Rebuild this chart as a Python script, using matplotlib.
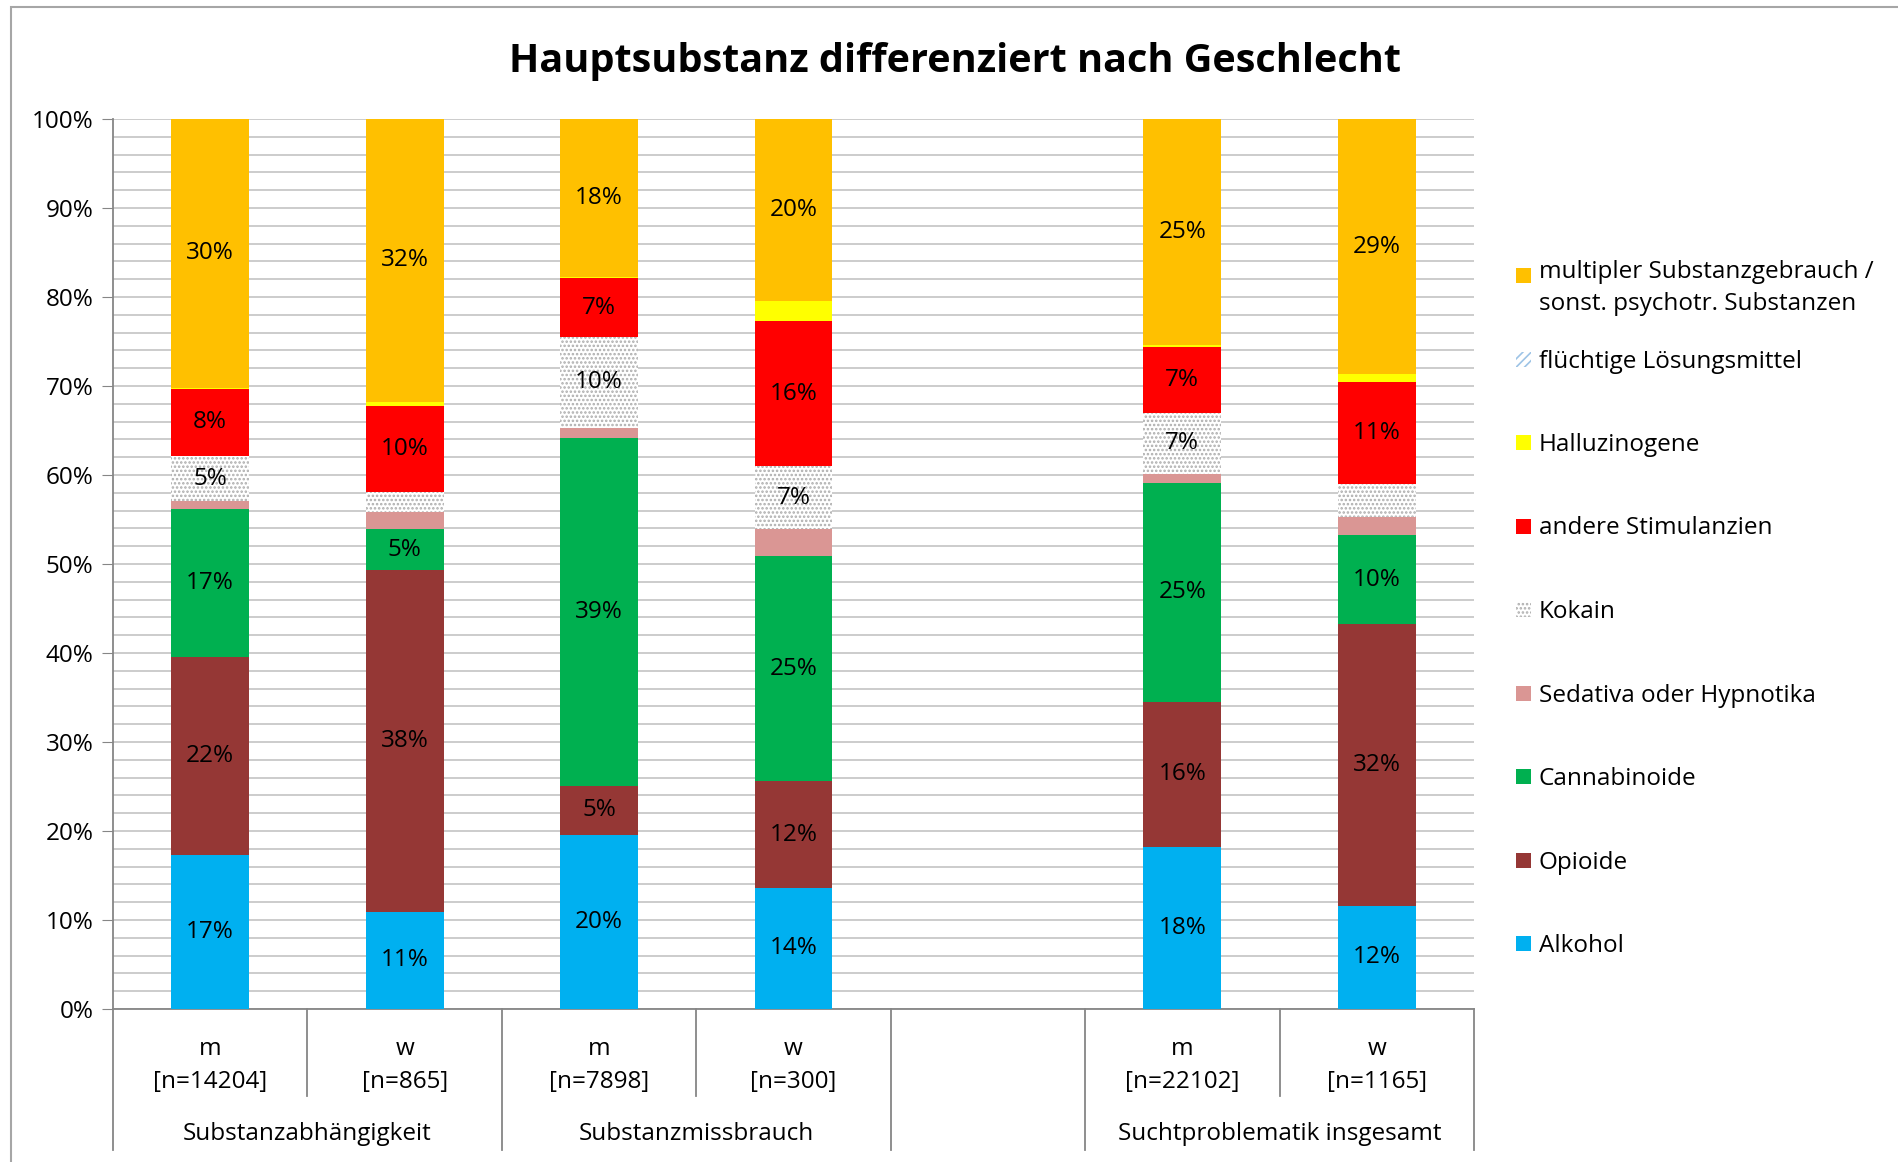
import matplotlib.pyplot as plt
from matplotlib.patches import Rectangle

plt.rcParams['font.family'] = ['Open Sans', 'DejaVu Sans']
plt.rcParams['hatch.linewidth'] = 1.2

# Daten (Anteile in %)
gruppen = ['Substanzabhängigkeit', 'Substanzmissbrauch', 'Suchtproblematik insgesamt']
geschlecht = ['m', 'w', 'm', 'w', 'm', 'w']
n_werte = [14204, 865, 7898, 300, 22102, 1165]
x_pos = [0, 1, 2, 3, 5, 6]

alkohol = [17.3, 10.9, 19.6, 13.6, 18.2, 11.6]
opioide = [22.3, 38.4, 5.4, 12.0, 16.3, 31.6]
cannabinoide = [16.6, 4.6, 39.2, 25.3, 24.6, 10.1]
sedativa = [0.9, 1.9, 1.1, 3.0, 1.0, 2.0]
kokain = [5.0, 2.3, 10.2, 7.1, 6.9, 3.7]
stimulanzien = [7.6, 9.7, 6.6, 16.3, 7.4, 11.4]
halluzinogene = [0.1, 0.4, 0.2, 2.3, 0.2, 0.9]
loesungsmittel = [0.0, 0.0, 0.0, 0.0, 0.0, 0.0]
multipel = [30.2, 31.8, 17.7, 20.4, 25.4, 28.7]

serien = [
    ('Alkohol', alkohol, '#00B0F0', None, None),
    ('Opioide', opioide, '#953735', None, None),
    ('Cannabinoide', cannabinoide, '#00B050', None, None),
    ('Sedativa oder Hypnotika', sedativa, '#DA9694', None, None),
    ('Kokain', kokain, 'white', '....', '#ADADAD'),
    ('andere Stimulanzien', stimulanzien, '#FF0000', None, None),
    ('Halluzinogene', halluzinogene, '#FFFF00', None, None),
    ('flüchtige Lösungsmittel', loesungsmittel, 'white', '////', '#9DC3E6'),
    ('multipler Substanzgebrauch /\nsonst. psychotr. Substanzen', multipel, '#FFC000', None, None),
]

fs = 17.5

fig = plt.figure(figsize=(18.99, 11.62), dpi=100)
ax = fig.add_axes([0.0595, 0.1317, 0.7167, 0.7659])

unten = [0.0] * 6
for name, werte, farbe, hatch, hfarbe in serien:
    if hatch:
        bars = ax.bar(x_pos, werte, 0.4, bottom=unten, color=farbe, hatch=hatch,
                      edgecolor=hfarbe, linewidth=0, zorder=3)
    else:
        bars = ax.bar(x_pos, werte, 0.4, bottom=unten, color=farbe,
                      linewidth=0, zorder=3)
    for b, v in zip(bars, werte):
        if v >= 4.5:
            ax.text(b.get_x() + b.get_width() / 2, b.get_y() + v / 2, f'{round(v)}%',
                    ha='center', va='center', fontsize=fs, zorder=4)
    unten = [u + w for u, w in zip(unten, werte)]

ax.set_xlim(-0.5, 6.5)
ax.set_ylim(0, 100)
ax.set_yticks(range(0, 101, 10))
ax.set_yticklabels([f'{t}%' for t in range(0, 101, 10)], fontsize=fs)
ax.set_yticks(range(0, 101, 2), minor=True)
ax.tick_params(axis='y', which='major', length=8, color='#868686', pad=6)
ax.tick_params(axis='y', which='minor', length=0)
ax.grid(axis='y', which='both', color='#C8C8C8', linewidth=1.3, zorder=0)
ax.set_axisbelow(True)

for s in ['top', 'right']:
    ax.spines[s].set_visible(False)
ax.spines['left'].set_color('#868686')
ax.spines['bottom'].set_color('#868686')
ax.spines['left'].set_linewidth(1.3)
ax.spines['bottom'].set_linewidth(1.3)

ax.set_xticks(x_pos)
ax.set_xticklabels([f'{g}\n[n={n}]' for g, n in zip(geschlecht, n_werte)],
                   fontsize=fs, linespacing=1.5)
ax.tick_params(axis='x', length=0, pad=20)

# Trennlinien der Kategorienachse
trans = ax.get_xaxis_transform()
for xl in [0.5, 2.5, 5.5]:
    ax.plot([xl, xl], [0, -0.098], color='#868686', lw=1.3, transform=trans, clip_on=False)
for xl in [-0.5, 1.5, 3.5, 4.5, 6.5]:
    ax.plot([xl, xl], [0, -0.158], color='#868686', lw=1.3, transform=trans, clip_on=False)
for gx, gname in zip([0.5, 2.5, 5.5], gruppen):
    ax.text(gx, -0.141, gname, ha='center', va='center', fontsize=fs, transform=trans)

fig.text(0.503, 0.947, 'Hauptsubstanz differenziert nach Geschlecht',
         ha='center', va='center', fontsize=28.5, fontweight='bold')

# Legende
leg_y = [275, 358.5, 442, 525.5, 609, 692.7, 776, 860, 943]
for (name, werte, farbe, hatch, hfarbe), yp in zip(serien[::-1], leg_y):
    yf = 1 - (yp + 3) / 1162
    sq = Rectangle((1516 / 1899, 1 - (yp + 8) / 1162), 15 / 1899, 15 / 1162,
                   transform=fig.transFigure, facecolor=farbe,
                   hatch=hatch, edgecolor=hfarbe if hatch else farbe, linewidth=0)
    fig.patches.append(sq)
    if '\n' in name:
        fig.text(1539 / 1899, yf + 18 / 1162, name, ha='left', va='top',
                 fontsize=fs, linespacing=1.45)
    else:
        fig.text(1539 / 1899, yf, name, ha='left', va='center', fontsize=fs)

# Rahmen
fig.patches.append(Rectangle((11 / 1899, -0.1), 1.2, 1 - 7 / 1162 + 0.1,
                             transform=fig.transFigure, fill=False,
                             edgecolor='#A6A6A6', linewidth=1.5))

fig.savefig('out.png', dpi=100)
